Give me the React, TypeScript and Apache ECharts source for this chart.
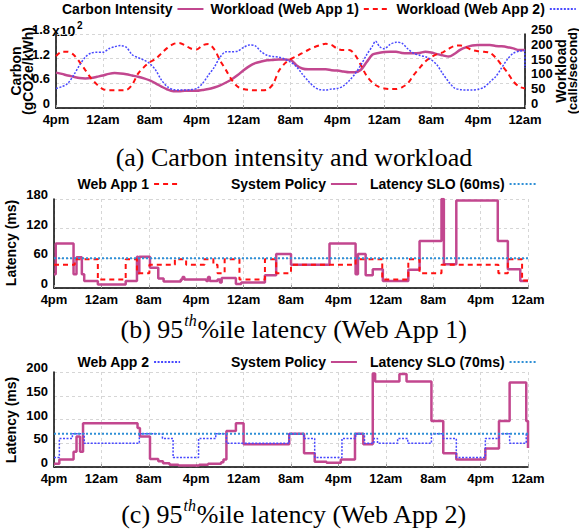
import React, { useEffect, useRef } from 'react';
import * as echarts from 'echarts';

// ---------- data ----------
const xTickLabels = ['4pm', '12am', '8am', '4pm', '12am', '8am', '4pm', '12am', '8am', '4pm', '12am'];

// (a) carbon intensity (x10^2 gCO2e/kWh), hours since 4pm
const carbonIntensity: [number, number][] = [
  [0, 0.86], [1, 0.83], [2, 0.79], [3, 0.76], [4, 0.73], [5, 0.72], [6, 0.73], [7, 0.76], [8, 0.79], [9, 0.83],
  [10, 0.85], [11, 0.84], [12, 0.82], [13, 0.79], [14, 0.76], [15, 0.72], [16, 0.67], [17, 0.6], [18, 0.52], [19, 0.45],
  [20, 0.41], [21, 0.41], [22, 0.42], [23, 0.42], [24, 0.42], [25, 0.44], [26, 0.46], [27, 0.5], [28, 0.55], [29, 0.62],
  [30, 0.7], [31, 0.8], [32, 0.92], [33, 1.02], [34, 1.09], [35, 1.13], [36, 1.16], [37, 1.17], [38, 1.18], [39, 1.18],
  [40, 1.17], [41, 1.04], [42, 0.96], [43, 0.94], [44, 0.94], [45, 0.94], [46, 0.94], [47, 0.92], [48, 0.91], [49, 0.89],
  [50, 0.87], [51, 0.87], [52, 0.93], [53, 1.12], [54, 1.3], [55, 1.34], [56, 1.36], [57, 1.37], [58, 1.37], [59, 1.34],
  [60, 1.33], [61, 1.33], [62, 1.34], [63, 1.37], [64, 1.35], [65, 1.31], [66, 1.28], [67, 1.25], [68, 1.32], [69, 1.42],
  [70, 1.48], [71, 1.52], [72, 1.53], [73, 1.53], [74, 1.53], [75, 1.51], [76, 1.5], [77, 1.48], [78, 1.45], [79, 1.41], [80, 1.41],
];

// (a) workload, calls/second
const workloadApp1: [number, number][] = [
  [0, 175], [1, 190], [2, 190], [3, 180], [4, 156], [5, 128], [6, 100], [7, 79], [8, 64], [9, 60],
  [10, 60], [11, 60], [12, 61], [13, 79], [14, 116], [15, 138], [16, 155], [17, 166], [18, 185], [19, 203],
  [20, 216], [21, 220], [22, 212], [23, 201], [24, 198], [25, 212], [26, 216], [27, 198], [28, 160], [29, 128],
  [30, 94], [31, 72], [32, 64], [33, 61], [34, 60], [35, 60], [36, 62], [37, 80], [38, 125], [39, 150],
  [40, 165], [41, 175], [42, 185], [43, 196], [44, 205], [45, 212], [46, 217], [47, 213], [48, 200], [49, 196],
  [50, 196], [51, 180], [52, 145], [53, 108], [54, 85], [55, 72], [56, 66], [57, 64], [58, 64], [59, 70],
  [60, 83], [61, 111], [62, 135], [63, 157], [64, 172], [65, 182], [66, 188], [67, 200], [68, 210], [69, 211],
  [70, 205], [71, 196], [72, 192], [73, 190], [74, 187], [75, 170], [76, 145], [77, 120], [78, 90], [79, 72], [80, 66],
];

const workloadApp2: [number, number][] = [
  [0, 66], [1, 72], [2, 83], [3, 111], [4, 144], [5, 172], [6, 186], [7, 188], [8, 188], [9, 200],
  [10, 207], [11, 211], [12, 205], [13, 180], [14, 170], [15, 162], [16, 150], [17, 128], [18, 94], [19, 72],
  [20, 62], [21, 61], [22, 61], [23, 62], [24, 66], [25, 83], [26, 111], [27, 138], [28, 172], [29, 190],
  [30, 190], [31, 192], [32, 205], [33, 213], [34, 210], [35, 190], [36, 178], [37, 174], [38, 172], [39, 165],
  [40, 155], [41, 140], [42, 115], [43, 92], [44, 72], [45, 62], [46, 61], [47, 64], [48, 66], [49, 74],
  [50, 92], [51, 115], [52, 145], [53, 180], [54, 210], [54.5, 226], [55.2, 207], [56, 200], [57, 215], [58, 222],
  [59, 219], [60, 200], [61, 185], [62, 178], [63, 173], [64, 163], [65, 145], [66, 115], [67, 88], [68, 67],
  [69, 62], [70, 61], [71, 61], [72, 63], [73, 70], [74, 88], [75, 106], [76, 135], [77, 165], [78, 185],
  [79, 192], [79.9, 194], [80, 135],
];

// (b) 95th percentile latency, Web App 1 (ms); each point starts a step
const latencyApp1: [number, number][] = [
  [0, 47], [3.5, 58], [7.4, 17], [12.1, 58], [14.0, 30], [16.1, 47], [20.4, 58], [22.3, 47], [25.4, 58], [26.9, 47],
  [27.6, 30], [28.8, 58], [31.3, 17], [35.6, 58], [37.5, 30], [40, 47], [50.9, 58], [55.4, 17], [59.8, 58], [61.7, 30],
  [65.4, 47], [75.0, 30], [76.6, 58], [79.0, 15], [80, 15],
];
const policyApp1: [number, number][] = [
  [0, 28], [0.3, 90], [3.3, 28], [3.8, 62], [4.7, 28], [5.1, 14], [7.4, 7], [12.1, 14], [14.0, 63], [14.2, 30],
  [14.4, 63], [16.2, 41], [17.6, 19], [18.5, 13], [21.4, 17], [21.7, 22], [22.0, 17], [25.7, 14], [26.0, 22], [26.3, 14],
  [27.6, 17], [28.0, 11], [28.3, 20], [30.7, 8], [31.6, 11], [35.6, 26], [37.5, 69], [40, 47], [46.5, 90], [50.9, 28],
  [51.3, 69], [52.6, 26], [53.8, 38], [55.5, 14], [59.8, 37], [61.7, 95], [65.4, 180], [65.8, 48], [67.9, 177], [74.9, 95],
  [76.6, 38], [78.7, 14], [80, 14],
];
const sloApp1 = 60;

// (c) 95th percentile latency, Web App 2 (ms)
const latencyApp2: [number, number][] = [
  [0, 20], [0.9, 60], [3.1, 70], [5.1, 50], [14.4, 70], [18.3, 60], [20.1, 20], [24.4, 60], [27.3, 70], [29.1, 50],
  [39.7, 70], [42.2, 60], [44, 20], [48.6, 60], [50.9, 70], [52.4, 50], [54.0, 60], [54.6, 50], [58.0, 60], [59.7, 50],
  [63.7, 70], [65.7, 60], [67.9, 20], [72.8, 60], [75.1, 70], [76.9, 50], [79.7, 70], [80, 70],
];
const policyApp2: [number, number][] = [
  [0, 7], [0.9, 16], [3.3, 32], [3.8, 64], [4.4, 32], [4.9, 92], [14.1, 82], [14.5, 64], [16.2, 17], [17.6, 12],
  [18.4, 8], [19.5, 5], [21, 3], [24.5, 5], [26, 7], [28.2, 10], [28.6, 16], [29.1, 76], [30.7, 92], [32, 48],
  [39.7, 70], [42.2, 29], [44, 11], [46, 9], [48.4, 16], [50.8, 70], [52.2, 48], [53.8, 197], [54.2, 180], [58.3, 196],
  [59.5, 180], [63.7, 97], [65.7, 29], [67.9, 16], [72.8, 39], [75.1, 97], [76.9, 178], [79.7, 97], [80, 40],
];
const sloApp2 = 70;

// ---------- styles ----------
const SANS = '"Liberation Sans", Arial, Helvetica, sans-serif';
const SERIF = '"Liberation Serif", "Times New Roman", serif';
const PURPLE = '#c2478f';
const RED = '#ff1010';
const BLUE = '#4848ff';
const SLO = '#2f8fd6';
const GRID = '#d6d6d6';

const tickFont = { fontFamily: SANS, fontWeight: 'bold' as const, fontSize: 13, color: '#000' };

function xAxis(gridIndex: number) {
  return {
    type: 'value', gridIndex, min: 0, max: 80, interval: 8,
    axisLine: { show: true, onZero: false, lineStyle: { color: '#000', width: 1.5 } },
    axisTick: { show: true, inside: true, length: 3, lineStyle: { color: '#999' } },
    axisLabel: { ...tickFont, margin: 5, formatter: (v: number) => xTickLabels[Math.round(v / 8)] ?? '' },
    splitLine: { show: true, lineStyle: { color: GRID, type: [3, 3], width: 1 } },
  };
}

function yAxis(gridIndex: number, max: number, interval: number, position = 'left', split = true, fmt?: (v: number) => string) {
  return {
    type: 'value', gridIndex, min: 0, max, interval, position,
    axisLine: { show: true, onZero: false, lineStyle: { color: '#000', width: 1.5 } },
    axisTick: { show: false },
    axisLabel: { ...tickFont, margin: 6, verticalAlign: 'bottom', lineHeight: 9, formatter: fmt },
    splitLine: { show: split, lineStyle: { color: GRID, type: [3, 3], width: 1 } },
  };
}

function legend(name: string, left: number, top: number) {
  return {
    data: [name], left, top, align: 'right', orient: 'horizontal',
    itemWidth: 26, itemHeight: 14, itemGap: 0, padding: 0, selectedMode: false,
    itemStyle: { opacity: 0 },
    textStyle: { fontFamily: SANS, fontWeight: 'bold', fontSize: 14, color: '#000' },
  };
}

function rotText(text: string, x: number, y: number, size = 14) {
  return {
    type: 'text', x, y, rotation: Math.PI / 2,
    style: { text, fontFamily: SANS, fontWeight: 'bold', fontSize: size, fill: '#000', align: 'center', verticalAlign: 'middle' },
  };
}

function caption(letter: string, rest: string, y: number, sup: boolean) {
  const text = sup ? `{n|(${letter}) 95}{s|th}{n|%ile latency (${rest})}` : `{n|(${letter}) ${rest}}`;
  return {
    type: 'text', x: 294, y,
    style: {
      text, align: 'center', verticalAlign: 'middle',
      rich: {
        n: { fontFamily: SERIF, fontSize: 26, fill: '#000', lineHeight: 30, verticalAlign: 'bottom' },
        s: { fontFamily: SERIF, fontSize: 16, fontStyle: 'italic', fill: '#000', lineHeight: 30, verticalAlign: 'top', padding: [0, 0, 0, 1] },
      },
    },
  };
}

export default function App() {
  const ref = useRef<HTMLDivElement>(null);
  useEffect(() => {
    document.body.style.margin = '0';
    if (!ref.current) return;
    const chart = echarts.init(ref.current, null, { renderer: 'svg' });
    const stepLine = (name: string, data: [number, number][], gi: number, yi: number, color: string, width: number, type: any) => ({
      name, type: 'line', xAxisIndex: gi, yAxisIndex: yi, data, step: 'end', symbol: 'none',
      lineStyle: { color, width, type }, itemStyle: { color },
    });
    const option: any = {
      animation: false,
      backgroundColor: '#fff',
      grid: [
        { left: 56, top: 34, width: 469, height: 74 },
        { left: 54, top: 199, width: 474, height: 89 },
        { left: 54, top: 372, width: 474, height: 95 },
      ],
      xAxis: [xAxis(0), xAxis(1), xAxis(2)],
      yAxis: [
        yAxis(0, 1.8, 0.6, 'left', true, (v: number) => String(Math.round(v * 10) / 10)),
        yAxis(0, 250, 50, 'right', false),
        yAxis(1, 180, 60),
        yAxis(2, 200, 50),
      ],
      legend: [
        legend('Carbon Intensity', 62, 2),
        legend('Workload (Web App 1)', 210, 2),
        legend('Workload (Web App 2)', 396, 2),
        legend('Web App 1', 77, 177),
        legend('System Policy', 231, 177),
        legend('Latency SLO (60ms)', 370, 177),
        legend('Web App 2', 77, 355),
        legend('System Policy', 231, 355),
        legend('Latency SLO (70ms)', 370, 355),
      ],
      series: [
        { name: 'Carbon Intensity', type: 'line', xAxisIndex: 0, yAxisIndex: 0, data: carbonIntensity, smooth: 0.3, symbol: 'none', lineStyle: { color: PURPLE, width: 2.5 }, itemStyle: { color: PURPLE } },
        { name: 'Workload (Web App 1)', type: 'line', xAxisIndex: 0, yAxisIndex: 1, data: workloadApp1, smooth: 0.3, symbol: 'none', lineStyle: { color: RED, width: 2, type: [5, 4] }, itemStyle: { color: RED } },
        { name: 'Workload (Web App 2)', type: 'line', xAxisIndex: 0, yAxisIndex: 1, data: workloadApp2, smooth: 0.3, symbol: 'none', lineStyle: { color: BLUE, width: 1.5, type: [2, 1.5] }, itemStyle: { color: BLUE } },
        stepLine('System Policy', policyApp1, 1, 2, PURPLE, 2.5, 'solid'),
        stepLine('Web App 1', latencyApp1, 1, 2, RED, 2, [5, 4]),
        { name: 'Latency SLO (60ms)', type: 'line', xAxisIndex: 1, yAxisIndex: 2, data: [[0, sloApp1], [80, sloApp1]], symbol: 'none', lineStyle: { color: SLO, width: 2, type: [2, 2] }, itemStyle: { color: SLO } },
        stepLine('System Policy', policyApp2, 2, 3, PURPLE, 2.5, 'solid'),
        stepLine('Web App 2', latencyApp2, 2, 3, BLUE, 1.5, [2, 1.5]),
        { name: 'Latency SLO (70ms)', type: 'line', xAxisIndex: 2, yAxisIndex: 3, data: [[0, sloApp2], [80, sloApp2]], symbol: 'none', lineStyle: { color: SLO, width: 2, type: [2, 2] }, itemStyle: { color: SLO } },
      ],
      graphic: [
        { type: 'text', x: 52, y: 31, style: { text: 'x10', fontFamily: SANS, fontWeight: 'bold', fontSize: 14, fill: '#000', align: 'left', verticalAlign: 'middle' } },
        { type: 'text', x: 77, y: 25, style: { text: '2', fontFamily: SANS, fontWeight: 'bold', fontSize: 10, fill: '#000', align: 'left', verticalAlign: 'middle' } },
        rotText('Carbon', 16, 71),
        rotText('(gCO2e/kWh)', 28, 71),
        rotText('Workload', 561, 71),
        rotText('(calls/second)', 572, 71, 13),
        rotText('Latency (ms)', 11, 243),
        rotText('Latency (ms)', 11, 420),
        caption('a', 'Carbon intensity and workload', 155, false),
        caption('b', 'Web App 1', 327, true),
        caption('c', 'Web App 2', 512, true),
      ],
    };
    chart.setOption(option);
    return () => chart.dispose();
  }, []);
  return <div ref={ref} style={{ width: 579, height: 529 }} />;
}
